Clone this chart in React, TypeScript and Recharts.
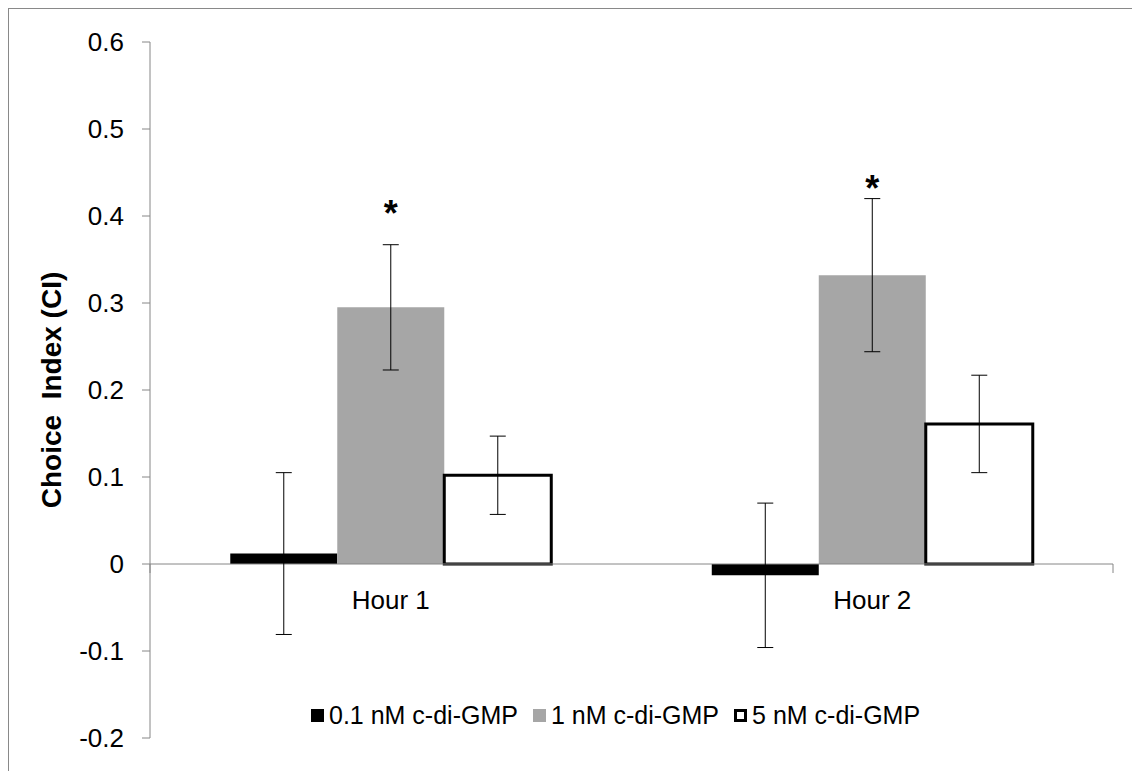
import React from "react";
import {
  ComposedChart, Bar, XAxis, YAxis, ErrorBar, ReferenceLine,
  ReferenceDot, Scatter, Legend, Label,
} from "recharts";

const categories = ["Hour 1", "Hour 2"];
const seriesNames = ["0.1 nM c-di-GMP", "1 nM c-di-GMP", "5 nM c-di-GMP"];
const lowDose = [0.012, -0.013];
const midDose = [0.295, 0.332];
const highDose = [0.102, 0.161];
const lowErr = [0.093, 0.083];
const midErr = [0.072, 0.088];
const highErr = [0.045, 0.056];
const starAt = [0.412, 0.44];
const yTicks = [-0.2, -0.1, 0, 0.1, 0.2, 0.3, 0.4, 0.5, 0.6];

const FONT = "'Liberation Sans', Arial, sans-serif";
const AXIS_GRAY = "#868686";

const data = categories.map((hour, i) => ({
  hour,
  low: lowDose[i], lowErr: lowErr[i],
  mid: midDose[i], midErr: midErr[i],
  high: highDose[i], highErr: highErr[i],
  star: starAt[i],
}));

const edges = Array.from({ length: categories.length + 1 }, (_, i) => i);

const swatches = [
  { background: "#000", border: "none" },
  { background: "#a6a6a6", border: "none" },
  { background: "#fff", border: "3px solid #000" },
];

function LegendBox() {
  return (
    <div style={{ display: "flex", alignItems: "center", fontFamily: FONT, fontSize: 25, color: "#000", whiteSpace: "nowrap" }}>
      {seriesNames.map((name, i) => (
        <div key={name} style={{ display: "flex", alignItems: "center", marginRight: 15 }}>
          <span style={{ display: "inline-block", width: 13, height: 13, boxSizing: "border-box", marginRight: 5, ...swatches[i] }} />
          <span>{name}</span>
        </div>
      ))}
    </div>
  );
}

const Star = (p: any) => (
  <text x={p.cx} y={p.cy + 20} textAnchor="middle" fontFamily={FONT} fontWeight="bold" fontSize={36} fill="#000">*</text>
);

const yLabel = (p: any) => {
  const vb = p.viewBox;
  const cx = vb.x + 42;
  const cy = vb.y + vb.height / 2;
  return (
    <text x={cx} y={cy} transform={`rotate(-90 ${cx} ${cy})`} textAnchor="middle" dominantBaseline="central"
      fontFamily={FONT} fontWeight="bold" fontSize={28} fill="#000" style={{ whiteSpace: "pre" }}>
      {"Choice  Index (CI)"}
    </text>
  );
};

export default function App() {
  return (
    <div style={{ width: 1131, height: 762, borderLeft: "1px solid #898989", borderTop: "1px solid #898989", background: "#fff" }}>
      <ComposedChart width={1131} height={762} data={data} barCategoryGap="16.67%" barGap={0}
        margin={{ top: 33, right: 27, bottom: 33, left: 0 }}>
        <XAxis dataKey="hour" hide />
        <XAxis xAxisId="edge" type="number" domain={[0, categories.length]} allowDataOverflow hide />
        <YAxis
          domain={[-0.2, 0.6]}
          ticks={yTicks}
          interval={0}
          width={141}
          tickSize={8}
          tickMargin={18}
          stroke={AXIS_GRAY}
          tick={{ fill: "#000", fontSize: 26, fontFamily: FONT }}
          tickFormatter={(v: number) => (v === 0 ? "0" : v.toFixed(1))}
        >
          <Label content={yLabel} />
        </YAxis>
        <ReferenceLine y={0} stroke={AXIS_GRAY} strokeWidth={1} />
        <Bar dataKey="low" name={seriesNames[0]} fill="#000" isAnimationActive={false}>
          <ErrorBar dataKey="lowErr" width={8} stroke="#000" strokeWidth={1} direction="y" />
        </Bar>
        <Bar dataKey="mid" name={seriesNames[1]} fill="#a6a6a6" isAnimationActive={false}>
          <ErrorBar dataKey="midErr" width={8} stroke="#000" strokeWidth={1} direction="y" />
        </Bar>
        <Bar dataKey="high" name={seriesNames[2]} fill="#fff" stroke="#000" strokeWidth={3} isAnimationActive={false}>
          <ErrorBar dataKey="highErr" width={8} stroke="#000" strokeWidth={1} direction="y" />
        </Bar>
        <Scatter dataKey="star" shape={Star} isAnimationActive={false} legendType="none" />
        {categories.map((c) => (
          <ReferenceDot key={c} x={c} y={0} r={0}
            shape={(p: any) => (
              <text x={p.cx} y={p.cy + 45} textAnchor="middle" fontFamily={FONT} fontSize={26} fill="#000">{c}</text>
            )}
          />
        ))}
        {edges.map((e) => (
          <ReferenceDot key={`edge-${e}`} xAxisId="edge" x={e} y={0} r={0}
            shape={(p: any) => <line x1={p.cx} y1={p.cy} x2={p.cx} y2={p.cy + 9} stroke={AXIS_GRAY} strokeWidth={1} />}
          />
        ))}
        <Legend verticalAlign="middle" layout="horizontal" content={() => <LegendBox />}
          wrapperStyle={{ left: 302, top: 692, width: "auto" }} />
      </ComposedChart>
    </div>
  );
}
